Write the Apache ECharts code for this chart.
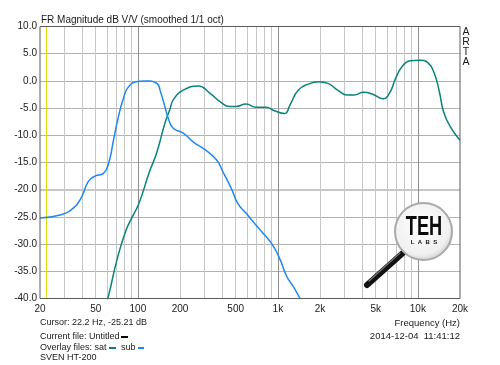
<!DOCTYPE html>
<html><head><meta charset="utf-8">
<script src="https://cdn.jsdelivr.net/npm/echarts@6/dist/echarts.min.js"></script>
<style>html,body{margin:0;padding:0;background:#fff}#c{width:500px;height:365px}</style>
</head><body><div id="c"></div>
<script>
// ---- data (frequency in Hz, magnitude in dB) ----
const subFreq = [20, 27.8, 34.6, 39.7, 44.2, 49.4, 56.8, 61.9, 67, 72.6, 78.9, 85.6, 97.4, 110, 121, 132, 140, 144, 156, 165, 179, 211, 248, 300, 364, 405, 464, 517, 592, 697, 802, 919, 1040, 1160, 1290, 1440];
const subDb   = [-25.2, -24.65, -23.4, -21.3, -18.5, -17.5, -17.0, -15.1, -10.9, -6.6, -3.2, -1.1, -0.15, 0.0, 0.0, -0.25, -0.75, -1.7, -4.7, -6.9, -8.7, -9.6, -11.2, -12.6, -14.5, -16.7, -19.7, -22.5, -24.3, -26.5, -28.3, -30.2, -32.9, -36.0, -37.8, -40.0];

const satFreq = [52, 61, 70.9, 81.7, 91.3, 101.9, 121, 136, 156, 169, 179, 211, 270, 328, 395, 452, 503, 592, 697, 825, 946, 1114, 1222, 1398, 1700, 1950, 2280, 2670, 3140, 3500, 4100, 4800, 5630, 6260, 6950, 7700, 8790, 10320, 11780, 13100, 14240, 15280, 17040, 20000];
const satDb   = [-46, -40, -32.9, -27.7, -25.0, -22.5, -16.7, -13.3, -7.8, -5.3, -3.5, -1.7, -0.95, -2.3, -4.0, -4.7, -4.7, -4.25, -4.85, -4.85, -5.5, -6.0, -4.4, -1.7, -0.45, -0.15, -0.45, -1.7, -2.6, -2.6, -2.1, -2.5, -3.3, -2.3, 0.5, 2.6, 3.7, 3.8, 3.35, 1.4, -2.0, -5.7, -8.4, -10.9];

const xLabelFreqs = [20, 50, 100, 200, 500, 1000, 2000, 5000, 10000, 20000];
const xGridFreqs  = [30, 40, 50, 60, 70, 80, 90, 100, 200, 300, 400, 500, 600, 700, 800, 900, 1000, 2000, 3000, 4000, 5000, 6000, 7000, 8000, 9000, 10000];
const xMajorFreqs = [100, 1000, 10000];
const cursorFreq = 22.2;
const yMin = -40, yMax = 10, yStep = 5;

// ---- chart ----
const L = Math.log10;
const FONT = '"Liberation Sans", Arial, sans-serif';
const fmtFreq = v => { const f = Math.round(Math.pow(10, v)); return f >= 1000 ? (f / 1000) + 'k' : String(f); };
const chart = echarts.init(document.getElementById('c'), null, {renderer: 'canvas'});
const xBase = {type: 'value', min: L(20), max: L(20000), gridIndex: 0};
const txt = (text, x, y, opts = {}) => ({
  type: 'text', x, y, z: 20, silent: true,
  style: Object.assign({text, fill: '#1a1a1a', font: (opts.size || 10) + 'px ' + FONT,
    align: opts.align || 'left', verticalAlign: 'middle', textAlign: opts.align || 'left', textVerticalAlign: 'middle'}, opts.style || {})
});
chart.setOption({
  animation: false,
  backgroundColor: '#fff',
  grid: {left: 40, right: 40, top: 26.5, bottom: 66.5, show: true, z: 5, borderColor: '#5a5a5a', borderWidth: 1, backgroundColor: 'transparent'},
  xAxis: [
    Object.assign({}, xBase, {
      position: 'bottom',
      axisLine: {show: false},
      axisTick: {show: false, customValues: xGridFreqs.map(L)},
      splitLine: {show: true, lineStyle: {color: '#c6c6c6', width: 1}},
      axisLabel: {customValues: xLabelFreqs.map(L), formatter: fmtFreq, color: '#1a1a1a', fontSize: 10, fontFamily: FONT, margin: 6}
    }),
    Object.assign({}, xBase, {
      position: 'bottom', axisLine: {show: false}, axisLabel: {show: false},
      axisTick: {show: false, customValues: xMajorFreqs.map(L)},
      splitLine: {show: true, lineStyle: {color: '#8e8e8e', width: 1}}
    }),
    Object.assign({}, xBase, {
      position: 'bottom', axisLine: {show: false}, axisLabel: {show: false},
      axisTick: {show: false, customValues: [L(cursorFreq)]},
      splitLine: {show: true, lineStyle: {color: '#dcdc10', width: 1}}
    })
  ],
  yAxis: [
    {type: 'value', min: yMin, max: yMax, interval: yStep,
      axisLine: {show: false}, axisTick: {show: false},
      splitLine: {show: true, lineStyle: {color: '#b2b2b2', width: 1}},
      axisLabel: {formatter: v => v.toFixed(1), color: '#1a1a1a', fontSize: 10, fontFamily: FONT, margin: 3}
    },
    {type: 'value', min: yMin, max: yMax, position: 'left',
      axisLine: {show: false}, axisLabel: {show: false},
      axisTick: {show: false, customValues: [-20]},
      splitLine: {show: true, lineStyle: {color: '#c8c8c8', width: 2}}
    }
  ],
  series: [
    {name: 'sat', type: 'line', xAxisIndex: 0, yAxisIndex: 0, symbol: 'none', smooth: 0.5, clip: true,
      lineStyle: {color: '#0a8478', width: 1.5},
      data: satFreq.map((f, i) => [L(f), satDb[i]])},
    {name: 'sub', type: 'line', xAxisIndex: 0, yAxisIndex: 0, symbol: 'none', smooth: 0.5, clip: true,
      lineStyle: {color: '#1e88f0', width: 1.5},
      data: subFreq.map((f, i) => [L(f), subDb[i]])}
  ],
  graphic: [
    txt('FR Magnitude dB V/V (smoothed 1/1 oct)', 41, 20, {size: 10}),
    txt('A', 466, 32, {align: 'center', size: 10.5}),
    txt('R', 466, 42, {align: 'center', size: 10.5}),
    txt('T', 466, 52, {align: 'center', size: 10.5}),
    txt('A', 466, 62, {align: 'center', size: 10.5}),
    txt('Cursor: 22.2 Hz, -25.21 dB', 40, 323, {size: 9}),
    txt('Current file: Untitled', 40, 337, {size: 9}),
    {type: 'rect', z: 20, silent: true, shape: {x: 121, y: 336, width: 7, height: 2}, style: {fill: '#000'}},
    txt('Overlay files: sat', 40, 348, {size: 9}),
    {type: 'rect', z: 20, silent: true, shape: {x: 109, y: 347, width: 7, height: 2}, style: {fill: '#0a8478'}},
    txt('sub', 121, 348, {size: 9}),
    {type: 'rect', z: 20, silent: true, shape: {x: 138, y: 347, width: 6, height: 2}, style: {fill: '#1e88f0'}},
    txt('SVEN HT-200', 40, 358, {size: 9}),
    txt('Frequency (Hz)', 460, 323, {size: 9.5, align: 'right'}),
    txt('2014-12-04  11:41:12', 460, 336, {size: 9.5, align: 'right'}),
    // logo: magnifier
    {type: 'line', z: 30, silent: true, shape: {x1: 367, y1: 285, x2: 404, y2: 252}, style: {stroke: '#111', lineWidth: 6, lineCap: 'round'}},
    {type: 'line', z: 31, silent: true, shape: {x1: 369, y1: 281, x2: 400, y2: 253}, style: {stroke: '#777', lineWidth: 1.2, lineCap: 'round'}},
    {type: 'circle', z: 30, silent: true, shape: {cx: 423.5, cy: 231.5, r: 28.5},
      style: {fill: new echarts.graphic.RadialGradient(0.45, 0.4, 0.7, [{offset: 0, color: '#ffffff'}, {offset: 0.7, color: '#f0f0f0'}, {offset: 1, color: '#b8b8b8'}]),
        stroke: '#a8a8a8', lineWidth: 2}},
    {type: 'text', z: 32, silent: true, x: 424, y: 227, scaleX: 0.65,
      style: {text: 'TEH', font: 'bold 28px ' + FONT, fill: '#0a0a0a', align: 'center', verticalAlign: 'middle', textAlign: 'center', textVerticalAlign: 'middle'}},
    {type: 'text', z: 32, silent: true, x: 424, y: 242, 
      style: {text: 'L  A  B  S', font: 'bold 6px ' + FONT, fill: '#111', align: 'center', verticalAlign: 'middle', textAlign: 'center', textVerticalAlign: 'middle'}}
  ]
});
</script>
</body></html>
